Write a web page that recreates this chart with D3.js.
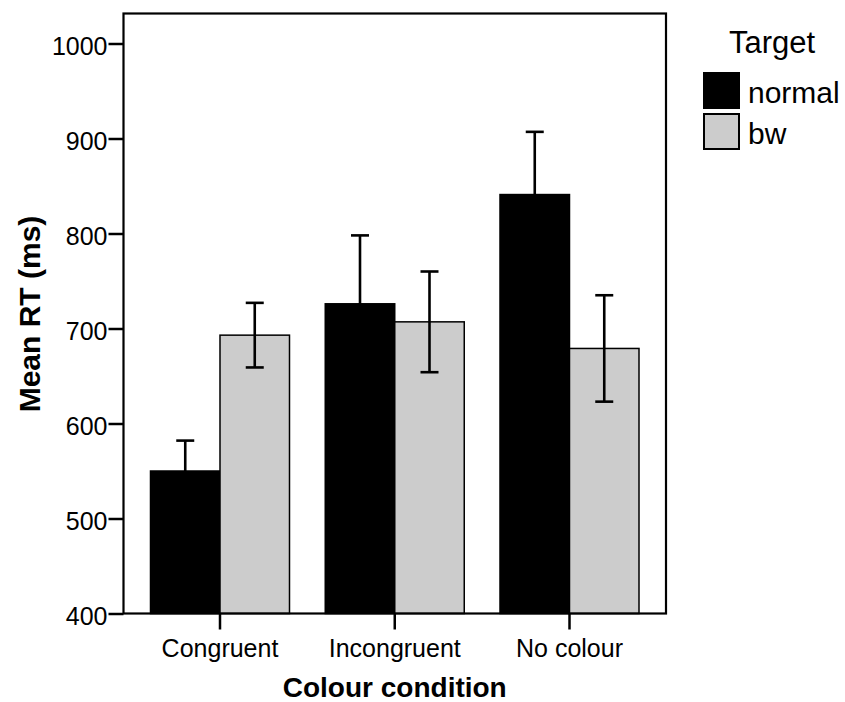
<!DOCTYPE html>
<html>
<head>
<meta charset="utf-8">
<script src="https://cdn.jsdelivr.net/npm/d3@7/dist/d3.min.js"></script>
<style>
  body { margin: 0; background: #fff; }
  svg { display: block; font-family: "Liberation Sans", Arial, sans-serif; }
</style>
</head>
<body>
<div id="chart"></div>
<script>
const categories = ['Congruent', 'Incongruent', 'No colour'];
const seriesNames = ['normal', 'bw'];
const normalMeans = [550, 726, 841];
const normalErrs = [32, 72, 66];
const bwMeans = [693, 707, 679];
const bwErrs = [34, 53, 56];
const yTicks = [400, 500, 600, 700, 800, 900, 1000];

const seriesColors = { normal: '#000000', bw: '#cccccc' };

function renderChart(containerSelector) {
  const container = d3.select(containerSelector);
  const width = 845, height = 702;
  const left = 123.5, right = 666, top = 13.5, bottom = 613.5;

  const svg = container.append('svg')
    .attr('width', width)
    .attr('height', height);

  const rows = categories.map((c, i) => ({
    cat: c,
    values: [
      { key: 'normal', mean: normalMeans[i], err: normalErrs[i] },
      { key: 'bw', mean: bwMeans[i], err: bwErrs[i] }
    ]
  }));

  const x = d3.scaleBand()
    .domain(categories)
    .range([left, right])
    .paddingInner(0.2046)
    .paddingOuter(0.1545);

  const x1 = d3.scaleBand()
    .domain(seriesNames)
    .range([0, x.bandwidth()])
    .padding(0);

  // 400 sits on the bottom edge, frame top is above 1000
  const y = d3.scaleLinear()
    .domain([400, 400 + (bottom - top) / 0.95])
    .range([bottom, top]);

  // Bars
  const groups = svg.append('g')
    .selectAll('g')
    .data(rows)
    .join('g')
    .attr('transform', d => `translate(${x(d.cat)},0)`);

  groups.selectAll('rect')
    .data(d => d.values)
    .join('rect')
    .attr('x', d => x1(d.key))
    .attr('width', x1.bandwidth())
    .attr('y', d => y(d.mean))
    .attr('height', d => y(400) - y(d.mean))
    .attr('fill', d => seriesColors[d.key])
    .attr('stroke', '#000')
    .attr('stroke-width', 1.5);

  // Error bars
  const eb = groups.selectAll('g.err')
    .data(d => d.values)
    .join('g')
    .attr('class', 'err')
    .attr('stroke', '#000')
    .attr('stroke-width', 2.6);

  const cx = d => x1(d.key) + x1.bandwidth() / 2;
  eb.append('line')
    .attr('x1', cx).attr('x2', cx)
    .attr('y1', d => y(d.mean - d.err))
    .attr('y2', d => y(d.mean + d.err));
  eb.append('line')
    .attr('x1', d => cx(d) - 9).attr('x2', d => cx(d) + 9)
    .attr('y1', d => y(d.mean + d.err))
    .attr('y2', d => y(d.mean + d.err));
  eb.append('line')
    .attr('x1', d => cx(d) - 9).attr('x2', d => cx(d) + 9)
    .attr('y1', d => y(d.mean - d.err))
    .attr('y2', d => y(d.mean - d.err));

  // Frame
  svg.append('rect')
    .attr('x', left).attr('y', top)
    .attr('width', right - left).attr('height', bottom - top)
    .attr('fill', 'none')
    .attr('stroke', '#000')
    .attr('stroke-width', 2.2);

  // Y axis
  const yAxis = svg.append('g')
    .attr('transform', `translate(${left},0)`)
    .call(d3.axisLeft(y).tickValues(yTicks).tickSize(15).tickPadding(1).tickFormat(d3.format('d')));
  yAxis.select('.domain').remove();
  yAxis.selectAll('line').attr('stroke', '#000').attr('stroke-width', 2.5);
  yAxis.selectAll('text')
    .attr('dy', '0.45em')
    .style('font-size', '25px')
    .attr('fill', '#000');

  // X axis
  const xAxis = svg.append('g')
    .attr('transform', `translate(0,${bottom})`)
    .call(d3.axisBottom(x).tickSize(16).tickPadding(10));
  xAxis.select('.domain').remove();
  xAxis.selectAll('line').attr('stroke', '#000').attr('stroke-width', 2.5);
  xAxis.selectAll('text')
    .attr('dy', '0.71em')
    .style('font-size', '25px')
    .attr('fill', '#000');

  // Axis titles
  svg.append('text')
    .attr('transform', `translate(40,314) rotate(-90)`)
    .attr('text-anchor', 'middle')
    .style('font-size', '30px')
    .style('font-weight', 'bold')
    .text('Mean RT (ms)');

  svg.append('text')
    .attr('x', (left + right) / 2)
    .attr('y', 697)
    .attr('text-anchor', 'middle')
    .style('font-size', '28px')
    .style('font-weight', 'bold')
    .text('Colour condition');

  // Legend
  const legend = svg.append('g');
  legend.append('text')
    .attr('x', 729).attr('y', 53)
    .style('font-size', '31px')
    .text('Target');

  const items = legend.selectAll('g.item')
    .data(seriesNames)
    .join('g')
    .attr('class', 'item')
    .attr('transform', (d, i) => `translate(704,${73 + i * 41})`);
  items.append('rect')
    .attr('width', 35).attr('height', 35)
    .attr('fill', d => seriesColors[d])
    .attr('stroke', '#000')
    .attr('stroke-width', 2);
  items.append('text')
    .attr('x', 44).attr('y', 30)
    .style('font-size', '30px')
    .text(d => d);
}

renderChart('#chart');
</script>
</body>
</html>
